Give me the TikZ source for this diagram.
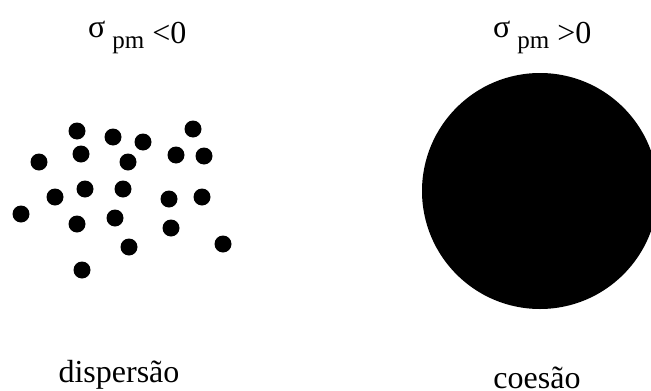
\documentclass[tikz,border=0pt]{standalone}
\usepackage{fontspec}
\setmainfont{Liberation Serif}
\usetikzlibrary{positioning}

\newcommand{\sigmalabel}[1]{\raisebox{6pt}{σ}\hspace{7pt}\raisebox{-5pt}{\fontsize{25}{25}\selectfont pm} #1}

\begin{document}
\begin{tikzpicture}[x=1pt, y=-1pt,
    particle/.style={circle, fill=black, inner sep=0pt, minimum size=17pt},
    caption/.style={inner sep=0pt, font=\fontsize{32}{32}\selectfont}]
      \clip (0,0) rectangle (651,391);

      % scattered particles
      \foreach \px/\py [count=\i] in {77/131, 113/137, 143/142, 193/129, 39/162,
          81/154, 128/162, 176/155, 204/156, 85/189, 123/189, 55/197,
          169/199, 202/197, 21/214, 77/224, 115/218, 171/228, 129/247,
          223/244, 82/270}
        \node[particle] (p\i) at (\px,\py) {};

      % cohesive body
      \node[circle, fill=black, inner sep=0pt, minimum size=236pt] (bulk) at (540,191) {};

      \node[caption, anchor=base west] (neg) at (88,43) {\sigmalabel{<0}};
      \node[caption, anchor=base west] (pos) at (493,43) {\sigmalabel{>0}};

      \node[caption, anchor=base] (disp) at (119,382) {dispersão};
      \node[caption, anchor=base] (coes) at (537,388) {coesão};
    \end{tikzpicture}
\end{document}
